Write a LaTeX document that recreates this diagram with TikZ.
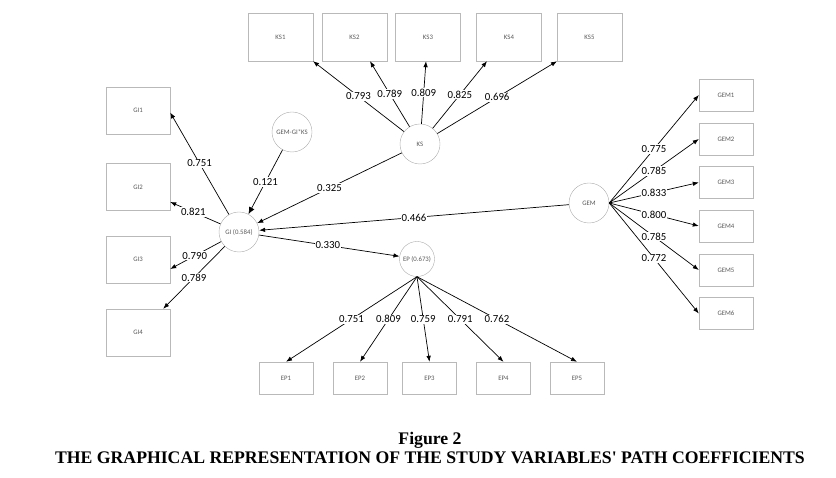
\documentclass[tikz,border=0pt]{standalone}
\usepackage{fontspec}
\usepackage{tikz}
\usetikzlibrary{arrows.meta}
\newfontfamily\lblfont{Carlito}
\newfontfamily\capfont{Liberation Serif}

\begin{document}
\begin{tikzpicture}[x=1pt,y=-1pt,
  box/.style={draw=gray!55,thin,inner sep=0pt,font=\lblfont\fontsize{6.8}{7}\selectfont,text=gray!70!black},
  ksbox/.style={box,minimum width=65pt,minimum height=48pt},
  gibox/.style={box,minimum width=64pt,minimum height=47pt},
  smbox/.style={box,minimum width=54pt,minimum height=32pt},
  lat/.style={circle,draw=gray!65,thin,inner sep=0pt,minimum size=40pt,font=\lblfont\fontsize{6.8}{7}\selectfont,text=gray!70!black},
  arr/.style={-{Latex[length=6pt,width=4.5pt]},line width=0.7pt},
  lbl/.style={fill=white,inner sep=1pt,font=\lblfont\fontsize{10.8}{12}\selectfont}]
\useasboundingbox (0,0) rectangle (836,478);
% latent variables
\node[lat] (KS) at (420,144) {KS};
\node[lat] (GK) at (292,132) {GEM-GI*KS};
\node[lat] (GI) at (239,232) {GI (0.584)};
\node[lat,minimum size=35pt] (EP) at (417,259) {EP (0.673)};
\node[lat] (GEM) at (589,203) {GEM};
% indicators
\foreach \i/\x in {1/280.5,2/354.5,3/428,4/509,5/589.5}
    \node[ksbox] (KS\i) at (\x,37) {KS\i};
\foreach \i/\y in {1/110.5,2/187,3/259.5,4/332.5}
    \node[gibox] (GI\i) at (138,\y) {GI\i};
\foreach \i/\y in {1/95,2/139,3/182.5,4/226,5/270,6/313.5}
    \node[smbox] (GEM\i) at (726,\y) {GEM\i};
\foreach \i/\x in {1/286,2/360,3/429.5,4/503.5,5/577}
    \node[smbox] (EP\i) at (\x,378) {EP\i};
% loadings
\foreach \i/\dx/\v in {1/32.5/0.793,2/15.5/0.789,3/-2/0.809,4/-22/0.825,5/-32.5/0.696}
    \draw[arr] (KS) -- node[lbl]{\v} ([xshift=\dx pt]KS\i.south);
\draw[arr] (GI) -- node[lbl]{0.751} ([yshift=-2pt]GI1.east);
\draw[arr] (GI) -- node[lbl,pos=0.54]{0.821} ([yshift=-15pt]GI2.east);
\draw[arr] (GI) -- node[lbl,pos=0.52]{0.790} ([yshift=-9.5pt]GI3.east);
\draw[arr] (GI) -- node[lbl]{0.789} ([xshift=-7pt]GI4.north east);
\foreach \i/\v in {1/0.775,2/0.785,3/0.833,4/0.800,5/0.785,6/0.772}
    \draw[arr] (GEM.east) -- node[lbl]{\v} (GEM\i.west);
\foreach \i/\v in {1/0.751,2/0.809,3/0.759,4/0.791,5/0.762}
    \draw[arr] (EP.south) -- node[lbl]{\v} (EP\i.north);
% paths
\draw[-{Latex[length=7pt,width=6pt]},line width=0.7pt] (GK) -- node[lbl]{0.121} (GI);
\draw[arr] (KS) -- node[lbl]{0.325} (GI);
\draw[arr] (GEM) -- node[lbl]{0.466} (GI);
\draw[arr] (GI) -- node[lbl,pos=0.49]{0.330} (EP);
% caption
\node[anchor=base,font=\capfont\bfseries\fontsize{17.7}{20}\selectfont] (fig) at (430,444) {Figure 2};
\node[anchor=base,font=\capfont\bfseries\fontsize{17.7}{20}\selectfont] (title) at (430,463.5) {THE GRAPHICAL REPRESENTATION OF THE STUDY VARIABLES' PATH COEFFICIENTS};
\end{tikzpicture}
\end{document}
